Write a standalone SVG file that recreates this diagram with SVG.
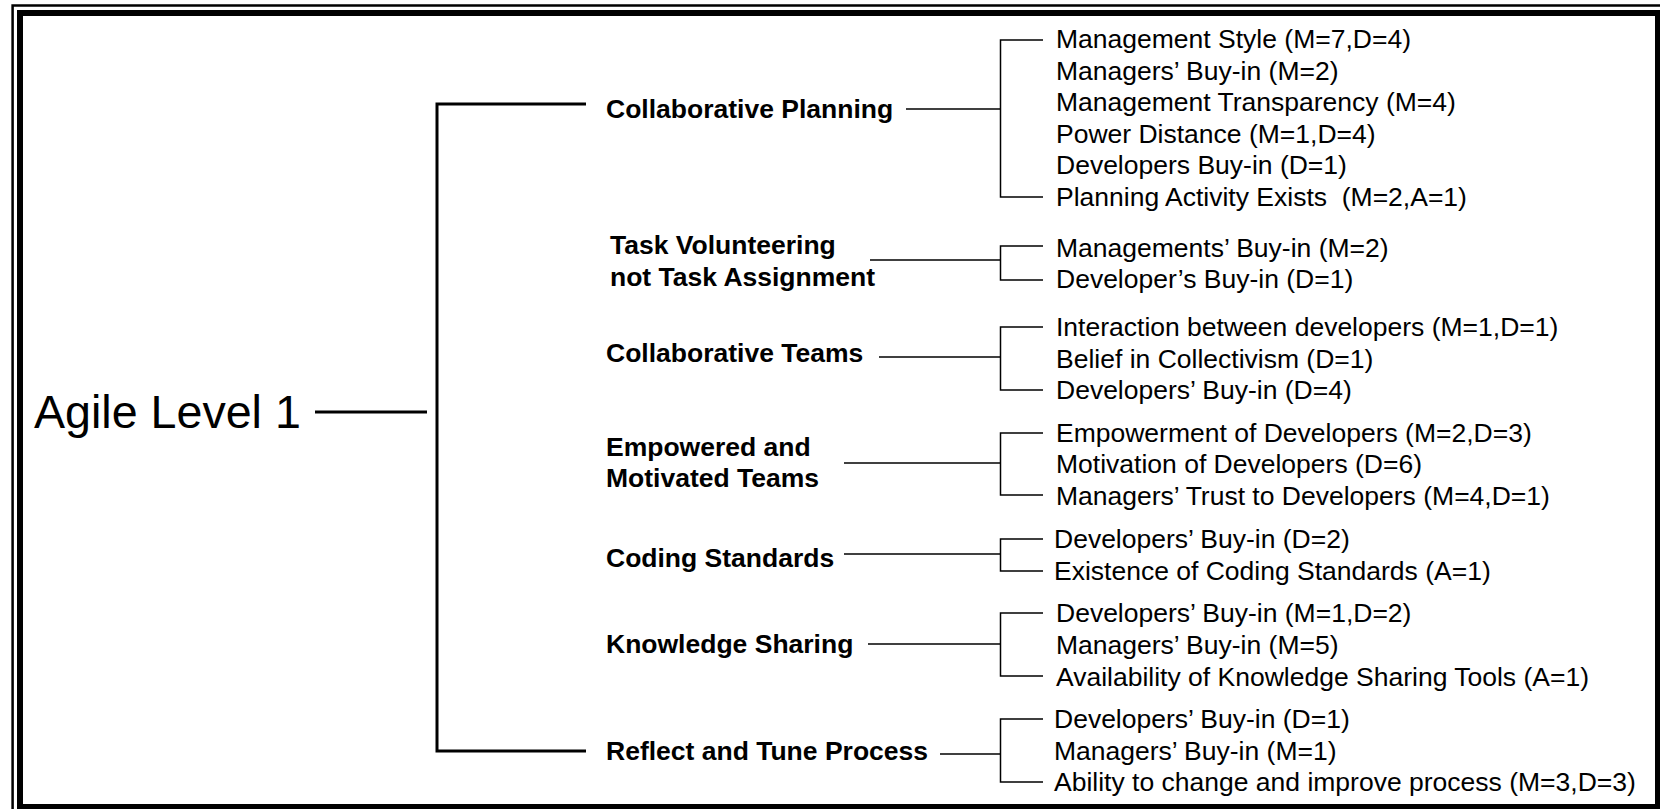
<svg xmlns="http://www.w3.org/2000/svg" width="1660" height="809" viewBox="0 0 1660 809">
<style>
.frame-outer{fill:none;stroke:#000;stroke-width:2.5}
.frame-inner{fill:none;stroke:#000;stroke-width:6}
.thick{fill:none;stroke:#000;stroke-width:3}
.thin{fill:none;stroke:#000;stroke-width:1.5}
.root{font-family:"Liberation Sans",Arial,sans-serif;font-size:46.6px;fill:#000}
.cat{font-family:"Liberation Sans",Arial,sans-serif;font-size:26.5px;font-weight:bold;fill:#000}
.leaf{font-family:"Liberation Sans",Arial,sans-serif;font-size:26.5px;fill:#000}
</style>
<rect width="1660" height="809" fill="#fff"/>
<g id="frame">
<rect class="frame-outer" x="12.6" y="5.5" width="1652" height="810"/>
<rect class="frame-inner" x="20" y="13" width="1638" height="794"/>
</g>
<g id="connectors">
<line class="thick" x1="315" y1="412" x2="427" y2="412"/>
<path class="thick" d="M586,104 H437 V751 H586"/>
<line class="thin" x1="906" y1="109" x2="1000.5" y2="109"/>
<path class="thin" d="M1043,40 H1000.5 V197 H1043"/>
<line class="thin" x1="870" y1="260" x2="1000.5" y2="260"/>
<path class="thin" d="M1043,246 H1000.5 V280 H1043"/>
<line class="thin" x1="879" y1="357" x2="1000.5" y2="357"/>
<path class="thin" d="M1043,327 H1000.5 V390 H1043"/>
<line class="thin" x1="844" y1="463" x2="1000.5" y2="463"/>
<path class="thin" d="M1043,433 H1000.5 V495 H1043"/>
<line class="thin" x1="844" y1="554" x2="1000.5" y2="554"/>
<path class="thin" d="M1043,539 H1000.5 V571 H1043"/>
<line class="thin" x1="868" y1="644" x2="1000.5" y2="644"/>
<path class="thin" d="M1043,613 H1000.5 V676 H1043"/>
<line class="thin" x1="940" y1="754" x2="1000.5" y2="754"/>
<path class="thin" d="M1043,719 H1000.5 V782 H1043"/>
</g>
<g id="root"><text class="root" x="34" y="428">Agile Level 1</text></g>
<g id="collaborative-planning">
<text class="cat" x="606" y="118">Collaborative Planning</text>
<text class="leaf" x="1056" y="48">Management Style (M=7,D=4)</text>
<text class="leaf" x="1056" y="80">Managers’ Buy-in (M=2)</text>
<text class="leaf" x="1056" y="111">Management Transparency (M=4)</text>
<text class="leaf" x="1056" y="143">Power Distance (M=1,D=4)</text>
<text class="leaf" x="1056" y="174">Developers Buy-in (D=1)</text>
<text class="leaf" x="1056" y="206" xml:space="preserve">Planning Activity Exists  (M=2,A=1)</text>
</g>
<g id="task-volunteering">
<text class="cat" x="610" y="254">Task Volunteering</text>
<text class="cat" x="610" y="286">not Task Assignment</text>
<text class="leaf" x="1056" y="257">Managements’ Buy-in (M=2)</text>
<text class="leaf" x="1056" y="288">Developer’s Buy-in (D=1)</text>
</g>
<g id="collaborative-teams">
<text class="cat" x="606" y="362">Collaborative Teams</text>
<text class="leaf" x="1056" y="336">Interaction between developers (M=1,D=1)</text>
<text class="leaf" x="1056" y="368">Belief in Collectivism (D=1)</text>
<text class="leaf" x="1056" y="399">Developers’ Buy-in (D=4)</text>
</g>
<g id="empowered-teams">
<text class="cat" x="606" y="456">Empowered and</text>
<text class="cat" x="606" y="487">Motivated Teams</text>
<text class="leaf" x="1056" y="442">Empowerment of Developers (M=2,D=3)</text>
<text class="leaf" x="1056" y="473">Motivation of Developers (D=6)</text>
<text class="leaf" x="1056" y="505">Managers’ Trust to Developers (M=4,D=1)</text>
</g>
<g id="coding-standards">
<text class="cat" x="606" y="567">Coding Standards</text>
<text class="leaf" x="1054" y="548">Developers’ Buy-in (D=2)</text>
<text class="leaf" x="1054" y="580">Existence of Coding Standards (A=1)</text>
</g>
<g id="knowledge-sharing">
<text class="cat" x="606" y="653">Knowledge Sharing</text>
<text class="leaf" x="1056" y="622">Developers’ Buy-in (M=1,D=2)</text>
<text class="leaf" x="1056" y="654">Managers’ Buy-in (M=5)</text>
<text class="leaf" x="1056" y="686">Availability of Knowledge Sharing Tools (A=1)</text>
</g>
<g id="reflect-tune">
<text class="cat" x="606" y="760">Reflect and Tune Process</text>
<text class="leaf" x="1054" y="728">Developers’ Buy-in (D=1)</text>
<text class="leaf" x="1054" y="760">Managers’ Buy-in (M=1)</text>
<text class="leaf" x="1054" y="791">Ability to change and improve process (M=3,D=3)</text>
</g>
</svg>
